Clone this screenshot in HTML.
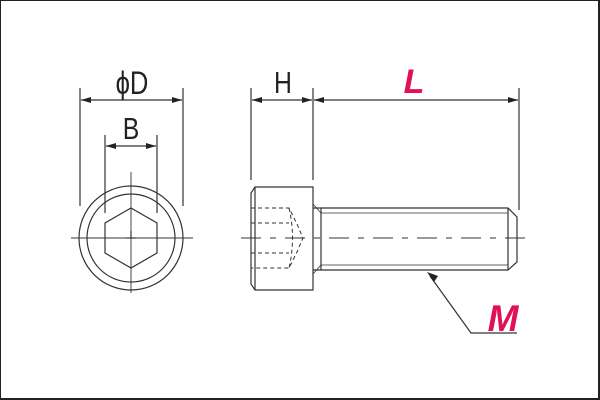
<!DOCTYPE html>
<html><head><style>
html,body{margin:0;padding:0;background:#fff}
svg{display:block}
text{font-family:"Liberation Sans",sans-serif}
</style></head><body>
<svg width="600" height="400" viewBox="0 0 600 400" xmlns="http://www.w3.org/2000/svg">
<defs>
<marker id="a" viewBox="0 0 10 6" refX="10" refY="3" markerWidth="10" markerHeight="6" orient="auto-start-reverse" markerUnits="userSpaceOnUse"><path d="M0,0 L10,3 L0,6 z" fill="#222"/></marker>
</defs>
<rect x="0.5" y="0.5" width="598" height="398" fill="#fff" stroke="#222" stroke-width="1"/>
<line x1="599" y1="0" x2="599" y2="400" stroke="#222" stroke-width="2"/>
<line x1="0" y1="399" x2="600" y2="399" stroke="#222" stroke-width="2"/>
<g stroke="#333" stroke-width="1.2" fill="none">
<circle cx="131" cy="238" r="52"/>
<circle cx="131" cy="238" r="44"/>
<polygon points="131,208 157,223 157,253 131,268 105,253 105,223"/>
<line x1="71" y1="238" x2="193" y2="238" stroke-width="0.9"/>
<line x1="131" y1="172" x2="131" y2="293" stroke-width="0.9"/>
<line x1="126" y1="238" x2="136" y2="238"/><line x1="131" y1="238" x2="131" y2="231"/>
<line x1="80" y1="88" x2="80" y2="206"/>
<line x1="183" y1="88" x2="183" y2="206"/>
<line x1="81" y1="100" x2="182" y2="100" marker-start="url(#a)" marker-end="url(#a)"/>
<line x1="105" y1="135" x2="105" y2="213"/>
<line x1="157" y1="135" x2="157" y2="213"/>
<line x1="106" y1="146" x2="156" y2="146" marker-start="url(#a)" marker-end="url(#a)"/>
<path d="M255,187 L313,187 L313,290 L255,290 L251,284 L251,193 Z"/>
<line x1="255" y1="187" x2="255" y2="290"/>
<path d="M313,208 L508,208 L517,217 L517,262 L508,270 L313,270"/>
<line x1="508" y1="208" x2="508" y2="270"/>
<line x1="321" y1="213" x2="508" y2="213" stroke-width="0.8"/>
<line x1="321" y1="265" x2="508" y2="265" stroke-width="0.8"/>
<line x1="321" y1="208" x2="321" y2="270"/>
<path d="M313,204 L321,213 M313,274 L321,265" stroke-width="0.8"/>
<g stroke-dasharray="4,3" stroke-width="1">
<path d="M251,208 L289,208 L297,224 L303,238 L297,252 L289,268 L251,268"/>
<path d="M251,223 L289,223 M251,253 L289,253"/>
<path d="M289,208 Q296,238 289,268"/>
</g>
<line x1="241" y1="238" x2="528" y2="238" stroke-dasharray="20,9,6,9" stroke-width="0.9"/>
<line x1="251" y1="88" x2="251" y2="180"/>
<line x1="313" y1="88" x2="313" y2="180"/>
<line x1="519" y1="88" x2="519" y2="210"/>
<line x1="252" y1="100" x2="312" y2="100" marker-start="url(#a)" marker-end="url(#a)"/>
<line x1="314" y1="100" x2="518" y2="100" marker-start="url(#a)" marker-end="url(#a)"/>
<path d="M517,333 L471,333 L430,276"/>
</g>
<path d="M427,272 L434,282 L438,276 Z" fill="#222"/>
<text transform="translate(132,94) scale(0.8,1)" font-size="32" text-anchor="middle" fill="#222">ϕD</text>
<text transform="translate(131,139) scale(0.8,1)" font-size="31" text-anchor="middle" fill="#222">B</text>
<text transform="translate(283,93) scale(0.8,1)" font-size="31" text-anchor="middle" fill="#222">H</text>
<text x="414" y="93" font-size="34" font-weight="bold" font-style="italic" text-anchor="middle" fill="#e0105a">L</text>
<text x="503" y="331" font-size="37" font-weight="bold" font-style="italic" text-anchor="middle" fill="#e0105a">M</text>
</svg>
</body></html>
